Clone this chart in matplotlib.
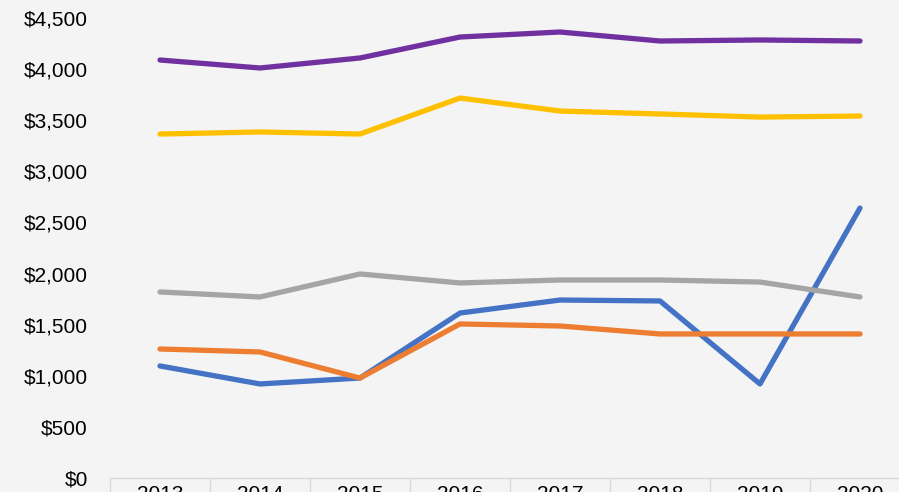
import matplotlib
matplotlib.use("Agg")
import matplotlib.pyplot as plt
from matplotlib.ticker import FuncFormatter, FixedLocator

years = ["2013", "2014", "2015", "2016", "2017", "2018", "2019", "2020"]
series_blue = [1096, 920, 978, 1614, 1741, 1732, 920, 2641]
series_orange = [1262, 1233, 978, 1507, 1487, 1409, 1409, 1409]
series_gray = [1820, 1771, 1996, 1908, 1937, 1937, 1917, 1771]
series_yellow = [3365, 3385, 3365, 3717, 3590, 3561, 3531, 3541]
series_purple = [4089, 4011, 4109, 4314, 4363, 4275, 4285, 4275]
colors = ["#4472C4", "#ED7D31", "#A5A5A5", "#FFC000", "#7030A0"]

plt.rcParams['font.family'] = ['Liberation Sans', 'DejaVu Sans']
bg = "#F4F4F4"
fig = plt.figure(figsize=(8.99, 4.92), dpi=100, facecolor=bg)
ax = fig.add_axes([110/899, 14/492, 800/899, 460/492], facecolor=bg)

x = list(range(len(years)))
for vals, c in zip([series_blue, series_orange, series_gray, series_yellow, series_purple], colors):
    ax.plot(x, vals, color=c, lw=3.8, solid_capstyle='round', solid_joinstyle='round')

ax.set_xlim(-0.5, len(years) - 0.5)
ax.set_ylim(0, 4500)
ax.set_yticks(range(0, 4501, 500))
ax.yaxis.set_major_formatter(FuncFormatter(lambda v, p: f"${int(v):,}"))
ax.tick_params(axis='y', length=0, pad=16, labelsize=15, labelcolor='black')

ax.set_xticks(x)
ax.set_xticklabels(years)
ax.tick_params(axis='x', which='major', length=0, pad=5, labelsize=15)
ax.xaxis.set_minor_locator(FixedLocator([i - 0.5 for i in range(len(years) + 1)]))
ax.tick_params(axis='x', which='minor', length=20, width=1, color='#D9D9D9', direction='out')

for s in ['top', 'right', 'left']:
    ax.spines[s].set_visible(False)
ax.spines['bottom'].set_color('#D9D9D9')
ax.spines['bottom'].set_linewidth(1)

fig.savefig("out.png", dpi=100, facecolor=bg)
